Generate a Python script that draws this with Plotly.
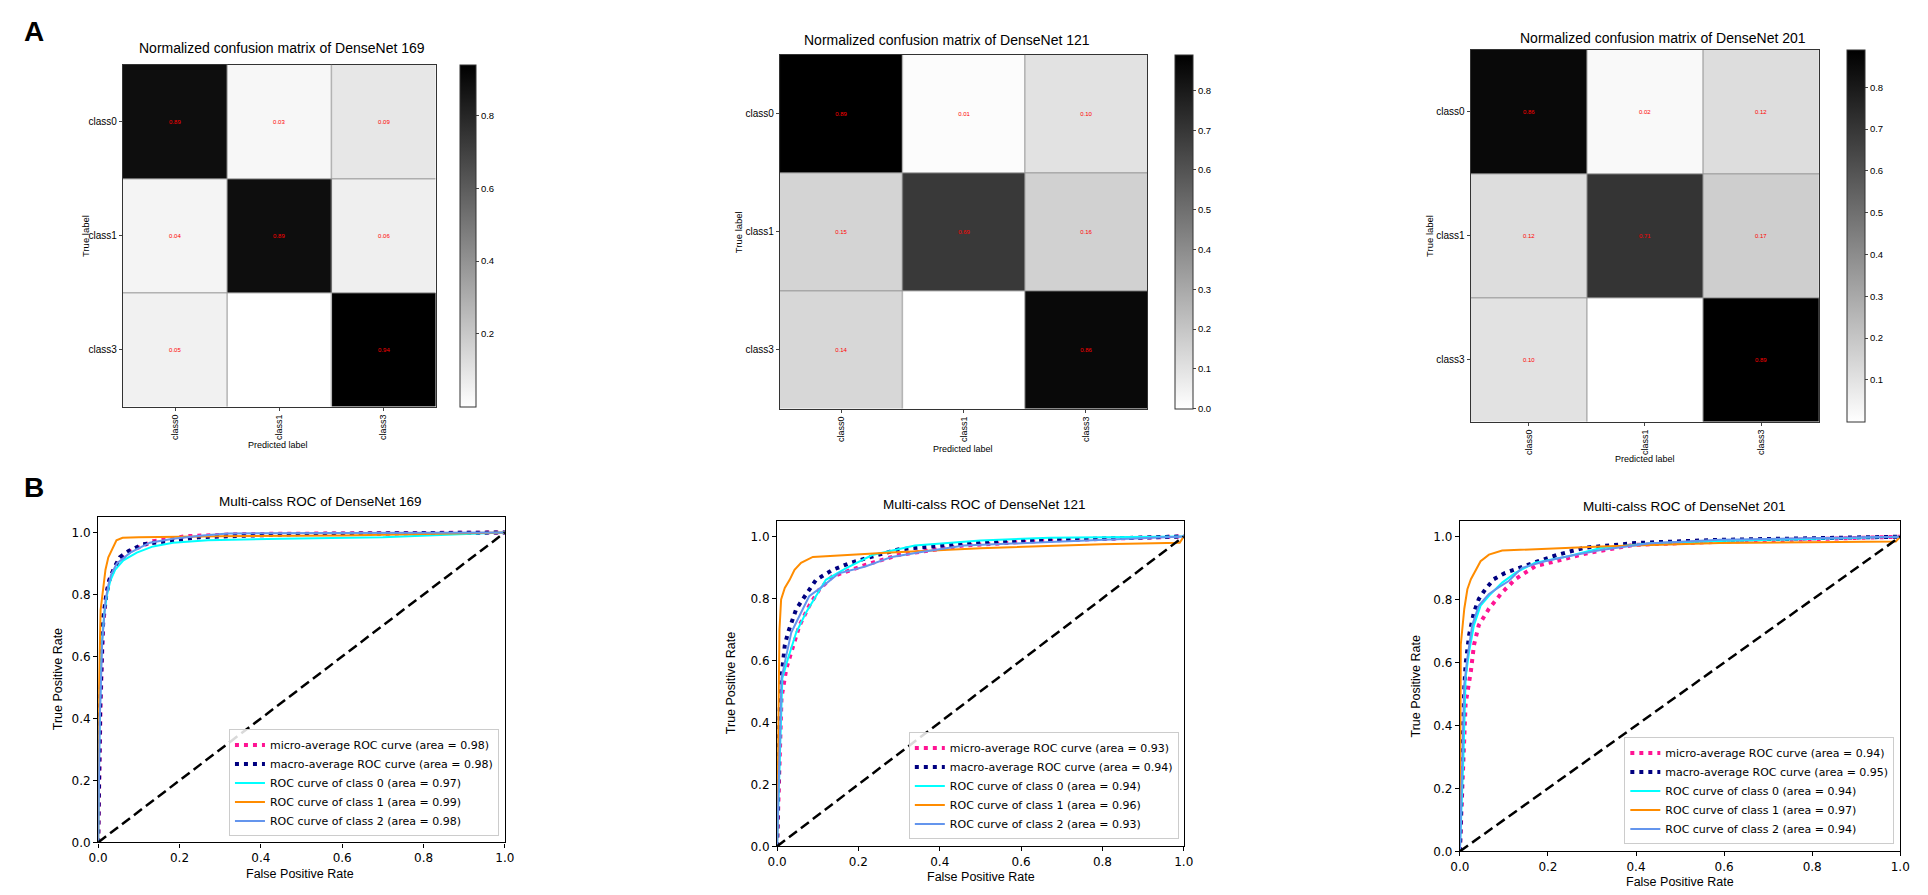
import plotly.graph_objects as go

W, H = 1928, 895

# ---- confusion matrices (rows = true label, cols = predicted label) ----
classes = ["class0", "class1", "class3"]

cm_169 = [[0.89, 0.03, 0.09],
          [0.04, 0.89, 0.06],
          [0.05, 0.00, 0.94]]
cm_121 = [[0.89, 0.01, 0.10],
          [0.15, 0.69, 0.16],
          [0.14, 0.00, 0.86]]
cm_201 = [[0.86, 0.02, 0.12],
          [0.12, 0.71, 0.17],
          [0.10, 0.00, 0.89]]

cbar_ticks_169 = [0.2, 0.4, 0.6, 0.8]
cbar_ticks_121 = [0.0, 0.1, 0.2, 0.3, 0.4, 0.5, 0.6, 0.7, 0.8]
cbar_ticks_201 = [0.1, 0.2, 0.3, 0.4, 0.5, 0.6, 0.7, 0.8]

# ---- ROC curves ----
diag = [0.0, 1.0]
roc_ticks = [0.0, 0.2, 0.4, 0.6, 0.8, 1.0]

# DenseNet 169
fpr_169_micro = [0, 0.006, 0.012, 0.02, 0.03, 0.046, 0.079, 0.135, 0.216, 0.35, 1.0]
tpr_169_micro = [0, 0.45, 0.7, 0.8, 0.86, 0.9, 0.94, 0.972, 0.988, 0.995, 1.0]
fpr_169_macro = [0, 0.005, 0.012, 0.02, 0.027, 0.04, 0.053, 0.075, 0.11, 0.168, 0.25, 0.5, 1.0]
tpr_169_macro = [0, 0.45, 0.72, 0.8, 0.845, 0.887, 0.92, 0.94, 0.962, 0.972, 0.985, 0.995, 1.0]
fpr_169_c0 = [0, 0.003, 0.008, 0.015, 0.022, 0.03, 0.042, 0.062, 0.095, 0.135, 0.184, 0.27, 0.45, 0.7, 1.0]
tpr_169_c0 = [0, 0.35, 0.62, 0.74, 0.8, 0.845, 0.88, 0.91, 0.935, 0.955, 0.967, 0.975, 0.98, 0.985, 1.0]
fpr_169_c1 = [0, 0.002, 0.006, 0.012, 0.018, 0.025, 0.035, 0.045, 0.06, 0.1, 0.3, 0.6, 1.0]
tpr_169_c1 = [0, 0.5, 0.75, 0.82, 0.88, 0.92, 0.95, 0.975, 0.983, 0.985, 0.988, 0.99, 1.0]
fpr_169_c2 = [0, 0.004, 0.01, 0.018, 0.025, 0.032, 0.046, 0.079, 0.127, 0.184, 0.257, 0.32, 1.0]
tpr_169_c2 = [0, 0.4, 0.65, 0.78, 0.83, 0.865, 0.9, 0.935, 0.967, 0.98, 0.99, 0.997, 1.0]

# DenseNet 121
fpr_121_micro = [0, 0.006, 0.011, 0.023, 0.039, 0.055, 0.079, 0.104, 0.136, 0.217, 0.298, 0.46, 0.67, 1.0]
tpr_121_micro = [0, 0.25, 0.479, 0.575, 0.649, 0.712, 0.776, 0.829, 0.871, 0.908, 0.94, 0.971, 0.987, 1.0]
fpr_121_macro = [0, 0.004, 0.0065, 0.01, 0.019, 0.027, 0.047, 0.063, 0.096, 0.136, 0.177, 0.217, 0.298, 0.46, 0.62, 1.0]
tpr_121_macro = [0, 0.3, 0.437, 0.532, 0.649, 0.69, 0.765, 0.797, 0.86, 0.892, 0.913, 0.929, 0.958, 0.977, 0.987, 1.0]
fpr_121_c0 = [0, 0.008, 0.013, 0.027, 0.047, 0.071, 0.096, 0.12, 0.169, 0.234, 0.339, 0.5, 0.67, 1.0]
tpr_121_c0 = [0, 0.3, 0.543, 0.606, 0.69, 0.754, 0.807, 0.86, 0.897, 0.94, 0.971, 0.987, 0.996, 1.0]
fpr_121_c1 = [0, 0.003, 0.006, 0.01, 0.019, 0.031, 0.043, 0.059, 0.088, 0.28, 0.5, 0.8, 0.99, 1.0]
tpr_121_c1 = [0, 0.45, 0.7, 0.797, 0.834, 0.86, 0.892, 0.915, 0.934, 0.948, 0.962, 0.975, 0.98, 1.0]
fpr_121_c2 = [0, 0.006, 0.011, 0.023, 0.035, 0.051, 0.079, 0.112, 0.152, 0.217, 0.282, 0.355, 0.46, 0.67, 1.0]
tpr_121_c2 = [0, 0.35, 0.543, 0.617, 0.69, 0.733, 0.807, 0.839, 0.881, 0.903, 0.934, 0.95, 0.971, 0.982, 1.0]

# DenseNet 201
fpr_201_micro = [0, 0.006, 0.013, 0.025, 0.032, 0.043, 0.066, 0.096, 0.126, 0.171, 0.223, 0.291, 0.396, 0.59, 1.0]
tpr_201_micro = [0, 0.25, 0.469, 0.573, 0.656, 0.719, 0.771, 0.823, 0.865, 0.906, 0.925, 0.948, 0.974, 0.984, 1.0]
fpr_201_macro = [0, 0.005, 0.01, 0.013, 0.021, 0.032, 0.043, 0.058, 0.077, 0.103, 0.133, 0.178, 0.223, 0.283, 0.4, 0.59, 1.0]
tpr_201_macro = [0, 0.3, 0.521, 0.594, 0.688, 0.76, 0.802, 0.833, 0.865, 0.885, 0.901, 0.922, 0.943, 0.965, 0.98, 0.99, 1.0]
fpr_201_c0 = [0, 0.008, 0.013, 0.021, 0.032, 0.047, 0.07, 0.096, 0.126, 0.171, 0.246, 0.32, 0.433, 0.59, 1.0]
tpr_201_c0 = [0, 0.3, 0.552, 0.635, 0.719, 0.781, 0.818, 0.854, 0.885, 0.917, 0.938, 0.964, 0.979, 0.986, 1.0]
fpr_201_c1 = [0, 0.001, 0.002, 0.01, 0.017, 0.025, 0.036, 0.047, 0.066, 0.096, 0.32, 0.59, 0.99, 1.0]
tpr_201_c1 = [0, 0.45, 0.656, 0.771, 0.833, 0.865, 0.896, 0.922, 0.943, 0.956, 0.969, 0.98, 0.985, 1.0]
fpr_201_c2 = [0, 0.006, 0.01, 0.017, 0.028, 0.043, 0.066, 0.088, 0.111, 0.141, 0.193, 0.246, 0.32, 0.433, 0.59, 1.0]
tpr_201_c2 = [0, 0.3, 0.531, 0.615, 0.719, 0.781, 0.818, 0.839, 0.859, 0.901, 0.922, 0.938, 0.958, 0.979, 0.99, 1.0]

auc_169 = [0.98, 0.98, 0.97, 0.99, 0.98]
auc_121 = [0.93, 0.94, 0.94, 0.96, 0.93]
auc_201 = [0.94, 0.95, 0.94, 0.97, 0.94]

SANS = "Liberation Sans, Arial, sans-serif"
DEJAVU = "DejaVu Sans, sans-serif"


def dom_x(a, b):
    return [a / W, b / W]


def dom_y(top, bottom):
    return [1 - bottom / H, 1 - top / H]


fig = go.Figure()
layout = {}
annotations = []
shapes = []


def note(text, x, y, size, family=SANS, angle=0, bold=False, xanchor="center"):
    if bold:
        text = "<b>" + text + "</b>"
    annotations.append(dict(
        text=text, x=x / W, y=1 - y / H, xref="paper", yref="paper",
        xanchor=xanchor, yanchor="middle", showarrow=False, textangle=angle,
        font=dict(size=size, family=family, color="black"),
    ))


# ---- panel A: confusion matrices ----
cm_panels = [
    (cm_169, cbar_ticks_169, "169", (106, 57, 422, 402), (447, 463), 267, 40, 68, 263, 440),
    (cm_121, cbar_ticks_121, "121", (770, 47, 1141, 404), (1169, 1187), 939, 32, 728, 955, 444),
    (cm_201, cbar_ticks_201, "201", (1468, 42, 1820, 417), (1848, 1866), 1662, 30, 1426, 1644, 455),
]

for i, (cm, cticks, name, box, cbx, tx, ty, ylx, xlx, xly) in enumerate(cm_panels, start=1):
    left, top, right, bottom = box
    txt = [["{:.2f}".format(v) if v > 0 else "" for v in row] for row in cm]
    zmax = max(max(row) for row in cm)
    fig.add_trace(go.Heatmap(
        z=cm, x=[0, 1, 2], y=[0, 1, 2],
        text=txt, texttemplate="%{text}",
        textfont=dict(color="red", size=6, family=SANS),
        colorscale=[[0, "white"], [1, "black"]],
        zmin=0, zmax=zmax,
        xaxis="x%d" % i, yaxis="y%d" % i,
        hoverinfo="skip",
        colorbar=dict(
            x=cbx[0] / W, xanchor="left", xpad=0, ypad=0,
            y=1 - top / H, yanchor="top", len=(bottom - top) / H, lenmode="fraction",
            thickness=cbx[1] - cbx[0], thicknessmode="pixels",
            outlinewidth=1, outlinecolor="#333333",
            tickvals=cticks, tickformat=".1f", ticks="outside", ticklen=3,
            tickfont=dict(size=9.5, family=SANS, color="black"),
        ),
    ))
    layout["xaxis%d" % i] = dict(
        domain=dom_x(left, right), anchor="y%d" % i, range=[-0.5, 2.5],
        tickvals=[0, 1, 2], ticktext=classes, tickangle=-90,
        tickfont=dict(size=9, family=SANS, color="black"),
        ticks="outside", ticklen=3, showline=True, mirror=True,
        linecolor="#333333", linewidth=1.2, showgrid=False, zeroline=False,
    )
    layout["yaxis%d" % i] = dict(
        domain=dom_y(top, bottom), anchor="x%d" % i, range=[2.5, -0.5],
        tickvals=[0, 1, 2], ticktext=classes,
        tickfont=dict(size=10, family=SANS, color="black"),
        ticks="outside", ticklen=3, showline=True, mirror=True,
        linecolor="#333333", linewidth=1.2, showgrid=False, zeroline=False,
    )
    for k in (0.5, 1.5):
        shapes.append(dict(type="line", xref="x%d" % i, yref="y%d" % i,
                           x0=k, x1=k, y0=-0.5, y1=2.5,
                           line=dict(color="rgba(150,150,150,0.7)", width=1.5)))
        shapes.append(dict(type="line", xref="x%d" % i, yref="y%d" % i,
                           x0=-0.5, x1=2.5, y0=k, y1=k,
                           line=dict(color="rgba(150,150,150,0.7)", width=1.5)))
    note("Normalized confusion matrix of DenseNet " + name, tx, ty, 14)
    note("True label", ylx, (top + bottom) / 2, 9.5, angle=-90)
    note("Predicted label", xlx, xly, 9)

# ---- panel B: ROC curves ----
roc_panels = [
    ("169", auc_169,
     [(fpr_169_micro, tpr_169_micro), (fpr_169_macro, tpr_169_macro),
      (fpr_169_c0, tpr_169_c0), (fpr_169_c1, tpr_169_c1), (fpr_169_c2, tpr_169_c2)],
     (81, 513, 492, 841), (486, 835), 306, 497, 40, 285, 873),
    ("121", auc_121,
     [(fpr_121_micro, tpr_121_micro), (fpr_121_macro, tpr_121_macro),
      (fpr_121_c0, tpr_121_c0), (fpr_121_c1, tpr_121_c1), (fpr_121_c2, tpr_121_c2)],
     (767, 517, 1178, 845), (1173, 838), 977, 500, 720, 973, 876),
    ("201", auc_201,
     [(fpr_201_micro, tpr_201_micro), (fpr_201_macro, tpr_201_macro),
      (fpr_201_c0, tpr_201_c0), (fpr_201_c1, tpr_201_c1), (fpr_201_c2, tpr_201_c2)],
     (1457, 517, 1902, 850), (1896, 843), 1684, 502, 1413, 1679, 881),
]

names = ["micro-average ROC curve", "macro-average ROC curve",
         "ROC curve of class 0", "ROC curve of class 1", "ROC curve of class 2"]
line_styles = [
    dict(color="deeppink", width=4, dash="4px,5px"),
    dict(color="navy", width=4, dash="4px,5px"),
    dict(color="aqua", width=2),
    dict(color="darkorange", width=2),
    dict(color="cornflowerblue", width=2),
]

for j, (name, aucs, curves, box, lg, tx, ty, ylx, xlx, xly) in enumerate(roc_panels, start=4):
    left, top, right, bottom = box
    leg = "legend" if j == 4 else "legend%d" % (j - 3)
    for (fx, ty_), lab, auc, st in zip(curves, names, aucs, line_styles):
        fig.add_trace(go.Scatter(
            x=fx, y=ty_, mode="lines", line=st,
            name="{} (area = {:.2f})".format(lab, auc),
            xaxis="x%d" % j, yaxis="y%d" % j, legend=leg, hoverinfo="skip",
        ))
    fig.add_trace(go.Scatter(
        x=diag, y=diag, mode="lines", line=dict(color="black", width=2.5, dash="10px,5px"),
        xaxis="x%d" % j, yaxis="y%d" % j, showlegend=False, hoverinfo="skip",
    ))
    axis_common = dict(
        showline=True, mirror=True, linecolor="black", linewidth=1.2,
        ticks="outside", ticklen=4, tickcolor="black", showgrid=False, zeroline=False,
        tickvals=roc_ticks, tickformat=".1f",
        tickfont=dict(size=12, family=DEJAVU, color="black"),
    )
    layout["xaxis%d" % j] = dict(axis_common, domain=dom_x(left, right),
                                 anchor="y%d" % j, range=[0, 1])
    layout["yaxis%d" % j] = dict(axis_common, domain=dom_y(top, bottom),
                                 anchor="x%d" % j, range=[0, 1.05])
    layout[leg] = dict(
        x=lg[0] / W, xanchor="right", y=1 - lg[1] / H, yanchor="bottom",
        bgcolor="rgba(255,255,255,0.85)", bordercolor="#cccccc", borderwidth=1,
        font=dict(size=11, family=DEJAVU, color="black"),
        itemwidth=30, tracegroupgap=0,
    )
    note("Multi-calss ROC of DenseNet " + name, tx, ty, 13.5)
    note("True Positive Rate", ylx, (top + bottom) / 2, 12.5, angle=-90)
    note("False Positive Rate", xlx, xly, 12.5)

note("A", 4, 24, 28, family="Liberation Sans, Arial", bold=True, xanchor="left")
note("B", 4, 483, 28, family="Liberation Sans, Arial", bold=True, xanchor="left")

fig.update_layout(
    width=W, height=H, margin=dict(l=0, r=0, t=0, b=0),
    paper_bgcolor="white", plot_bgcolor="white",
    annotations=annotations, shapes=shapes,
    **layout,
)

fig.write_html("out.html")
